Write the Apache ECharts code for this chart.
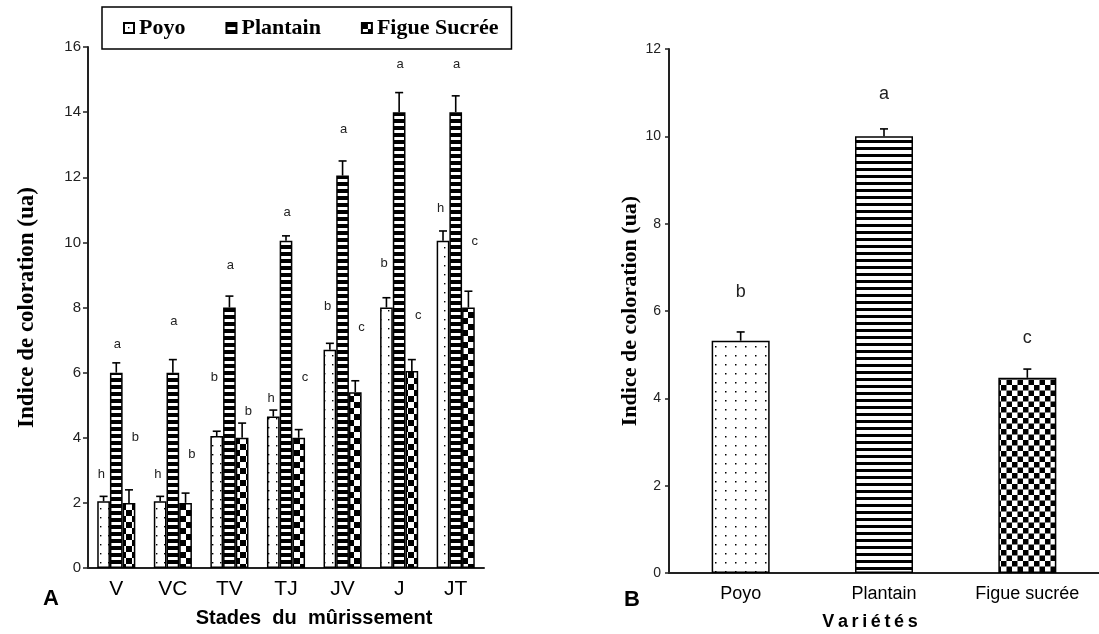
<!DOCTYPE html>
<html>
<head>
<meta charset="utf-8">
<script src="https://cdn.jsdelivr.net/npm/echarts@6/dist/echarts.min.js"></script>
<style>
html,body{margin:0;padding:0;background:#fff;}
#chart{width:1099px;height:634px;}
</style>
</head>
<body>
<div id="chart"></div>
<script>
// ---------- DATA ----------
const stages = ['V', 'VC', 'TV', 'TJ', 'JV', 'J', 'JT'];
const seriesNamesA = ['Poyo', 'Plantain', 'Figue Sucrée'];
const poyoA = [2.05, 2.05, 4.05, 4.65, 6.7, 8.0, 10.05];
const poyoErrA = [0.15, 0.15, 0.15, 0.2, 0.2, 0.3, 0.3];
const plantainA = [6.0, 6.0, 8.0, 10.05, 12.05, 14.0, 14.0];
const plantainErrA = [0.3, 0.4, 0.35, 0.15, 0.45, 0.6, 0.5];
const figueA = [2.0, 2.0, 4.0, 4.0, 5.4, 6.05, 8.0];
const figueErrA = [0.4, 0.3, 0.45, 0.25, 0.35, 0.35, 0.5];
const poyoLettersA = ['h', 'h', 'b', 'h', 'b', 'b', 'h'];
const poyoLetterYA = [2.86, 2.86, 5.84, 5.2, 8.02, 9.34, 11.04];
const plantainLettersA = ['a', 'a', 'a', 'a', 'a', 'a', 'a'];
const plantainLetterYA = [6.88, 7.56, 9.3, 10.93, 13.48, 15.45, 15.45];
const figueLettersA = ['b', 'b', 'b', 'c', 'c', 'c', 'c'];
const figueLetterYA = [4.0, 3.5, 4.8, 5.84, 7.4, 7.75, 10.04];
const yTicksA = {min: 0, max: 16, interval: 2};

const varieties = ['Poyo', 'Plantain', 'Figue sucrée'];
const valuesB = [5.32, 10.0, 4.47];
const errB = [0.2, 0.17, 0.2];
const lettersB = ['b', 'a', 'c'];
const letterYB = [6.44, 10.97, 5.37];
const yTicksB = {min: 0, max: 12, interval: 2};

// ---------- STYLE ----------
const SERIF = '"Liberation Serif","Times New Roman",serif';
const SANS = '"Liberation Sans",Arial,sans-serif';
const BAR_W_A = 12.7;
const BAR_W_B = 58;

function pattern(w, h, draw) {
  const c = document.createElement('canvas');
  c.width = w; c.height = h;
  const ctx = c.getContext('2d');
  ctx.fillStyle = '#fff';
  ctx.fillRect(0, 0, w, h);
  ctx.fillStyle = '#000';
  draw(ctx);
  return {image: c, repeat: 'repeat'};
}
const dotsA = pattern(8, 9, ctx => ctx.fillRect(4, 4, 1.4, 1.4));
const stripesA = pattern(4, 7, ctx => ctx.fillRect(0, 0, 4, 4));
const checkA = pattern(12, 12, ctx => { ctx.fillRect(0, 0, 6, 6); ctx.fillRect(6, 6, 6, 6); });
const dotsB = pattern(10, 9, ctx => ctx.fillRect(5, 4, 1.5, 1.5));
const stripesB = pattern(4, 7, ctx => ctx.fillRect(0, 0, 4, 3));
const checkB = pattern(11, 11, ctx => { ctx.fillRect(0, 0, 5.5, 5.5); ctx.fillRect(5.5, 5.5, 5.5, 5.5); });
const fillsA = [dotsA, stripesA, checkA];
const fillsB = [dotsB, stripesB, checkB];

const valsA = [poyoA, plantainA, figueA];
const errsA = [poyoErrA, plantainErrA, figueErrA];
const lettersA = [poyoLettersA, plantainLettersA, figueLettersA];
const letterYA = [poyoLetterYA, plantainLetterYA, figueLetterYA];
const letterDxA = [-15, 1, 19];

function errRender(barW, capHalf, offsetFn) {
  return function (params, api) {
    const cat = api.value(0), v = api.value(1), e = api.value(2), s = api.value(3);
    const p = api.coord([cat, v]);
    const t = api.coord([cat, v + e]);
    const x = p[0] + offsetFn(s, barW);
    const st = {stroke: '#000', lineWidth: 1.6};
    return {type: 'group', children: [
      {type: 'line', shape: {x1: x, y1: p[1], x2: x, y2: t[1]}, style: st},
      {type: 'line', shape: {x1: x - capHalf, y1: t[1], x2: x + capHalf, y2: t[1]}, style: st}
    ]};
  };
}
function letterRender(letters, dx, fontSize) {
  return function (params, api) {
    const p = api.coord([api.value(0), api.value(1)]);
    return {type: 'text', x: p[0] + dx, y: p[1], style: {
      text: letters[params.dataIndex], fill: '#222',
      font: fontSize + 'px ' + SANS, align: 'center', verticalAlign: 'middle'}};
  };
}

const series = [];
// Panel A bars
seriesNamesA.forEach((name, s) => {
  series.push({
    name: name, type: 'bar', xAxisIndex: 0, yAxisIndex: 0,
    barWidth: BAR_W_A, barGap: '0%',
    data: valsA[s],
    itemStyle: {color: fillsA[s], borderColor: '#000', borderWidth: 1.5},
    emphasis: {disabled: true}
  });
});
// Panel A error bars
seriesNamesA.forEach((name, s) => {
  series.push({
    type: 'custom', xAxisIndex: 0, yAxisIndex: 0, z: 5, silent: true, clip: false,
    renderItem: errRender(BAR_W_A, 4, (si, w) => (si - 1) * w),
    data: valsA[s].map((v, i) => [i, v, errsA[s][i], s])
  });
  series.push({
    type: 'custom', xAxisIndex: 0, yAxisIndex: 0, z: 6, silent: true, clip: false,
    renderItem: letterRender(lettersA[s], letterDxA[s], 13),
    data: letterYA[s].map((y, i) => [i, y])
  });
});
// Panel B
series.push({
  name: 'Variétés', type: 'bar', xAxisIndex: 1, yAxisIndex: 1,
  barWidth: BAR_W_B,
  data: valuesB.map((v, i) => ({value: v, itemStyle: {color: fillsB[i]}})),
  itemStyle: {borderColor: '#000', borderWidth: 1.5},
  emphasis: {disabled: true}
});
series.push({
  type: 'custom', xAxisIndex: 1, yAxisIndex: 1, z: 5, silent: true, clip: false,
  renderItem: errRender(BAR_W_B, 4, () => 0),
  data: valuesB.map((v, i) => [i, v, errB[i], 0])
});
series.push({
  type: 'custom', xAxisIndex: 1, yAxisIndex: 1, z: 6, silent: true, clip: false,
  renderItem: letterRender(lettersB, 0, 18),
  data: letterYB.map((y, i) => [i, y])
});

const axisLineStyle = {lineStyle: {color: '#222', width: 2}};
const option = {
  animation: false,
  backgroundColor: '#fff',
  legend: {
    data: seriesNamesA,
    left: 102, top: 7,
    padding: [10, 13, 10, 21],
    borderColor: '#000', borderWidth: 1.5,
    itemGap: 40, itemWidth: 10, itemHeight: 10,
    icon: 'rect',
    selectedMode: false,
    textStyle: {fontFamily: SERIF, fontWeight: 'bold', fontSize: 22, color: '#000'}
  },
  grid: [
    {left: 88, top: 47, width: 396, height: 521},
    {left: 669, top: 49, width: 434, height: 524}
  ],
  xAxis: [
    {type: 'category', gridIndex: 0, data: stages,
     axisLine: axisLineStyle,
     axisTick: {length: 5, lineStyle: {color: '#222', width: 1.5}},
     axisLabel: {fontFamily: SANS, fontSize: 21, color: '#000', margin: 11}},
    {type: 'category', gridIndex: 1, data: varieties,
     axisLine: axisLineStyle,
     axisTick: {length: 5, lineStyle: {color: '#222', width: 1.5}},
     axisLabel: {fontFamily: SANS, fontSize: 18, color: '#000', margin: 12}}
  ],
  yAxis: [
    {type: 'value', gridIndex: 0, min: yTicksA.min, max: yTicksA.max, interval: yTicksA.interval,
     splitLine: {show: false},
     axisLine: Object.assign({show: true}, axisLineStyle),
     axisTick: {show: true, length: 5, lineStyle: {color: '#222', width: 1.5}},
     axisLabel: {fontFamily: SANS, fontSize: 15, color: '#222', margin: 7},
     name: 'Indice de coloration (ua)', nameLocation: 'middle', nameGap: 49,
     nameTextStyle: {fontFamily: SERIF, fontWeight: 'bold', fontSize: 23, color: '#000'}},
    {type: 'value', gridIndex: 1, min: yTicksB.min, max: yTicksB.max, interval: yTicksB.interval,
     splitLine: {show: false},
     axisLine: Object.assign({show: true}, axisLineStyle),
     axisTick: {show: true, length: 4, lineStyle: {color: '#222', width: 1.5}},
     axisLabel: {fontFamily: SANS, fontSize: 14, color: '#222', margin: 8},
     name: 'Indice de coloration (ua)', nameLocation: 'middle', nameGap: 27,
     nameTextStyle: {fontFamily: SERIF, fontWeight: 'bold', fontSize: 22, color: '#000'}}
  ],
  graphic: [
    {type: 'text', x: 314, y: 618, style: {text: 'Stades  du  mûrissement', font: 'bold 20px ' + SANS, fill: '#000', align: 'center', verticalAlign: 'middle'}},
    {type: 'text', x: 870, y: 622, style: {text: 'V\u2009a\u2009r\u2009i\u2009é\u2009t\u2009é\u2009s', font: 'bold 18px ' + SANS, fill: '#000', align: 'center', verticalAlign: 'middle'}},
    {type: 'text', x: 51, y: 599, style: {text: 'A', font: 'bold 22px ' + SANS, fill: '#000', align: 'center', verticalAlign: 'middle'}},
    {type: 'text', x: 632, y: 600, style: {text: 'B', font: 'bold 22px ' + SANS, fill: '#000', align: 'center', verticalAlign: 'middle'}}
  ],
  series: series
};
const chart = echarts.init(document.getElementById('chart'), null, {renderer: 'canvas'});
chart.setOption(option);
</script>
</body>
</html>
